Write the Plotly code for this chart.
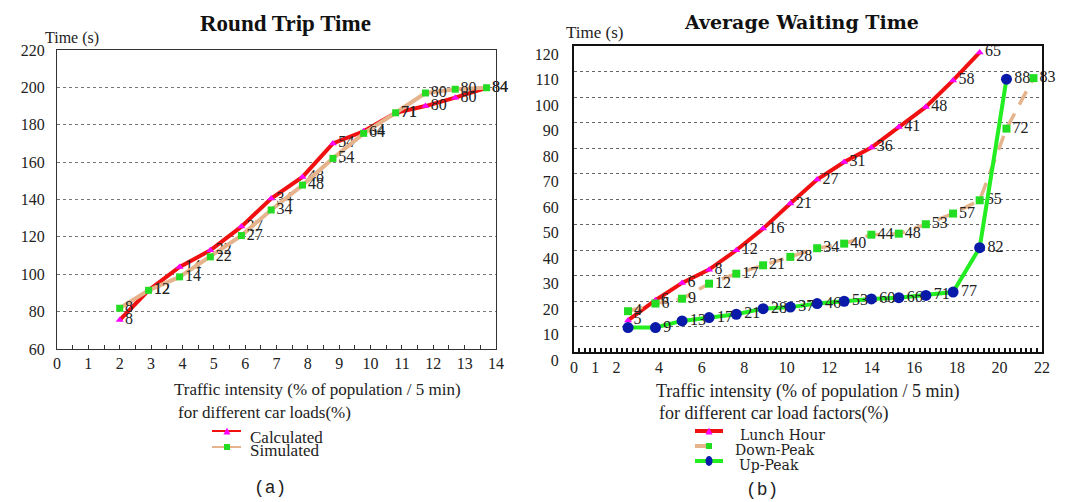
import plotly.graph_objects as go

# ---------------- Data: (a) Round Trip Time ----------------
rtt_x = [2.0, 2.92, 3.91, 4.89, 5.88, 6.83, 7.83, 8.8, 9.78, 10.8, 11.75, 12.7, 13.7]
rtt_calculated = [75.5, 91.4, 103.9, 112.8, 125.5, 140.5, 152.1, 170.0, 176.5, 186.4, 190.0, 194.5, 199.8]
rtt_simulated = [81.8, 91.4, 98.6, 109.3, 120.7, 134.4, 147.7, 162.0, 175.4, 186.4, 197.0, 199.0, 199.8]
rtt_labels = ["8", "12", "14", "22", "27", "34", "48", "54", "64", "71", "80", "80", "84"]
rtt_xticks = list(range(0, 15))
rtt_yticks = [60, 80, 100, 120, 140, 160, 180, 200, 220]

# ---------------- Data: (b) Average Waiting Time ----------------
awt_x = [2.54, 3.83, 5.08, 6.35, 7.63, 8.89, 10.17, 11.43, 12.7, 13.98, 15.27, 16.54, 17.82, 19.07, 20.33, 21.6]
lunch_y = [12.4, 20.3, 27.1, 32.3, 39.9, 48.4, 58.2, 67.6, 74.5, 80.2, 88.2, 96.1, 106.5, 117.5]
lunch_labels = ["5", "6", "6", "8", "12", "16", "21", "27", "31", "36", "41", "48", "58", "65"]
down_y = [16.0, 19.0, 20.9, 26.8, 30.7, 34.0, 37.3, 40.7, 42.5, 46.0, 46.4, 50.1, 54.3, 59.5, 87.6, 107.4]
down_labels = ["4", "6", "9", "12", "17", "21", "28", "34", "40", "44", "48", "53", "57", "65", "72", "83"]
up_y = [9.6, 9.6, 12.2, 13.5, 14.8, 17.0, 17.6, 19.0, 19.9, 20.8, 21.3, 22.2, 23.5, 40.9, 107.0]
up_labels = ["", "9", "13", "17", "21", "28", "37", "46", "53", "60", "66", "71", "77", "82", "88"]
awt_xticks = [0, 1, 2, 4, 6, 8, 10, 12, 14, 16, 18, 20, 22]
awt_yticks = list(range(0, 121, 10))

SERIF = "Liberation Serif"
OFF = 8                      # page body margin of the html page
W, H = 1082 - OFF, 502 - OFF

def px(v):
    return (v - OFF) / W

def py(v):
    return 1 - (v - OFF) / H

RED = "#f01010"
MAGENTA = "#ff00ff"
TAN = "#e6b48c"
GREEN_MK = "#22dd22"
GREEN_LN = "#22ee22"
BLUE = "#0a1aa8"
TXT = "#222222"

label_font = dict(family=SERIF, size=16, color=TXT)

fig = go.Figure()

# (a) traces
fig.add_trace(go.Scatter(
    x=rtt_x, y=rtt_calculated, name="Calculated", mode="lines+markers+text",
    text=rtt_labels, textposition="middle right", textfont=label_font,
    line=dict(color=RED, width=4),
    marker=dict(symbol="triangle-up", color=MAGENTA, size=7),
    xaxis="x", yaxis="y", showlegend=False, cliponaxis=False))
fig.add_trace(go.Scatter(
    x=rtt_x, y=rtt_simulated, name="Simulated", mode="lines+markers+text",
    text=rtt_labels, textposition="middle right", textfont=label_font,
    line=dict(color=TAN, width=4),
    marker=dict(symbol="square", color=GREEN_MK, size=7),
    xaxis="x", yaxis="y", showlegend=False, cliponaxis=False))

# (b) traces
fig.add_trace(go.Scatter(
    x=awt_x[:len(lunch_y)], y=lunch_y, name="Lunch Hour", mode="lines+markers+text",
    text=lunch_labels, textposition="middle right", textfont=label_font,
    line=dict(color=RED, width=4),
    marker=dict(symbol="triangle-up", color=MAGENTA, size=7),
    xaxis="x2", yaxis="y2", showlegend=False, cliponaxis=False))
fig.add_trace(go.Scatter(
    x=awt_x[:len(down_y)], y=down_y, name="Down-Peak", mode="lines+markers+text",
    text=down_labels, textposition="middle right", textfont=label_font,
    line=dict(color=TAN, width=3.5, dash="15px,10px"),
    marker=dict(symbol="square", color=GREEN_MK, size=8),
    xaxis="x2", yaxis="y2", showlegend=False, cliponaxis=False))
fig.add_trace(go.Scatter(
    x=awt_x[:len(up_y)], y=up_y, name="Up-Peak", mode="lines+markers+text",
    text=up_labels, textposition="middle right", textfont=label_font,
    line=dict(color=GREEN_LN, width=4),
    marker=dict(symbol="circle", color=BLUE, size=11),
    xaxis="x2", yaxis="y2", showlegend=False, cliponaxis=False))

tickfont = dict(family=SERIF, size=16, color=TXT)

fig.update_layout(
    width=W, height=H,
    margin=dict(l=0, r=0, t=0, b=0, autoexpand=False),
    paper_bgcolor="white", plot_bgcolor="white",
    font=dict(family=SERIF, color=TXT),
    showlegend=False,
    # ---- (a) axes ----
    xaxis=dict(domain=[px(57), px(496)], range=[0, 14], anchor="y",
               tickmode="array", tickvals=rtt_xticks,
               ticks="inside", ticklen=4, tickcolor="#333", tickwidth=1,
               minor=dict(dtick=0.5, tick0=0, ticks="inside", ticklen=4, tickcolor="#333"),
               showgrid=False, zeroline=False, showline=True, linecolor="#333",
               linewidth=1, mirror=True, tickfont=tickfont),
    xaxis3=dict(overlaying="x", anchor="y", range=[0, 14],
                tickmode="array", tickvals=rtt_xticks, showticklabels=False,
                ticks="outside", ticklen=4, tickcolor="#333",
                minor=dict(dtick=0.5, tick0=0, ticks="outside", ticklen=4, tickcolor="#333"),
                showgrid=False, zeroline=False, showline=False),
    yaxis=dict(domain=[py(349), py(50)], range=[60, 220], anchor="x",
               tickmode="array", tickvals=rtt_yticks,
               showgrid=True, gridcolor="#777777", griddash="dot", gridwidth=1,
               zeroline=False, showline=True, linecolor="#333", linewidth=1, mirror=True,
               ticks="", tickfont=tickfont, ticklabelstandoff=8),
    # ---- (b) axes ----
    xaxis2=dict(domain=[px(574), px(1042)], range=[0, 22], anchor="y2",
                tickmode="array", tickvals=awt_xticks,
                ticks="inside", ticklen=4, tickcolor="#111", tickwidth=1.5,
                minor=dict(dtick=0.25, tick0=0, ticks="inside", ticklen=4, tickcolor="#111", tickwidth=1.5),
                showgrid=False, zeroline=False, showline=True, linecolor="#111",
                linewidth=2, mirror=True, tickfont=tickfont),
    xaxis4=dict(overlaying="x2", anchor="y2", range=[0, 22],
                tickmode="array", tickvals=awt_xticks, showticklabels=False,
                ticks="outside", ticklen=4, tickcolor="#111", tickwidth=1.5,
                minor=dict(dtick=0.25, tick0=0, ticks="outside", ticklen=4, tickcolor="#111", tickwidth=1.5),
                showgrid=False, zeroline=False, showline=False),
    yaxis2=dict(domain=[py(352), py(46)], range=[0, 120], anchor="x2",
                tickmode="array", tickvals=awt_yticks,
                showgrid=True, gridcolor="#666666", griddash="dot", gridwidth=1,
                zeroline=False, showline=True, linecolor="#111", linewidth=2, mirror=True,
                ticks="", tickfont=tickfont, ticklabelstandoff=10, ticklabelshift=8),
)

annotations = [
    dict(text="<b>Round Trip Time</b>", x=px(285), y=py(23),
         font=dict(family=SERIF, size=23, color="#111111")),
    dict(text="Time (s)", x=px(43), y=py(38), xanchor="left",
         font=dict(family=SERIF, size=16, color=TXT)),
    dict(text="Traffic intensity (% of population / 5 min)", x=px(172), y=py(389), xanchor="left",
         font=dict(family=SERIF, size=17, color=TXT)),
    dict(text="for different car loads(%)", x=px(176), y=py(412), xanchor="left",
         font=dict(family=SERIF, size=17, color=TXT)),
    dict(text="(a)", x=px(270), y=py(488),
         font=dict(family="Liberation Mono", size=18, color=TXT)),
    dict(text="<b>Average Waiting Time</b>", x=px(801), y=py(22),
         font=dict(family="DejaVu Serif", size=19, color="#111111")),
    dict(text="Time (s)", x=px(564), y=py(32), xanchor="left",
         font=dict(family=SERIF, size=17, color=TXT)),
    dict(text="Traffic intensity (% of population / 5 min)", x=px(654), y=py(391), xanchor="left",
         font=dict(family=SERIF, size=18, color=TXT)),
    dict(text="for different car load factors(%)", x=px(657), y=py(413), xanchor="left",
         font=dict(family=SERIF, size=18, color=TXT)),
    dict(text="(b)", x=px(762), y=py(490),
         font=dict(family="Liberation Mono", size=18, color=TXT)),
]

# ---- compact legends drawn as line swatches + text (as in the reference) ----
shapes = []

def swatch(x0, x1, y, color, width, dash="solid"):
    shapes.append(dict(type="line", xref="paper", yref="paper",
                       x0=px(x0), x1=px(x1), y0=py(y), y1=py(y),
                       line=dict(color=color, width=width, dash=dash)))

def mk_square(cx, cy, s, color):
    shapes.append(dict(type="rect", xref="paper", yref="paper",
                       x0=px(cx - s), x1=px(cx + s), y0=py(cy + s), y1=py(cy - s),
                       fillcolor=color, line=dict(width=0)))

def mk_circle(cx, cy, rx, ry, color):
    shapes.append(dict(type="circle", xref="paper", yref="paper",
                       x0=px(cx - rx), x1=px(cx + rx), y0=py(cy + ry), y1=py(cy - ry),
                       fillcolor=color, line=dict(width=0)))

def mk_triangle(cx, cy, s, color):
    path = "M {:.5f} {:.5f} L {:.5f} {:.5f} L {:.5f} {:.5f} Z".format(
        px(cx - s), py(cy + s), px(cx + s), py(cy + s), px(cx), py(cy - s))
    shapes.append(dict(type="path", xref="paper", yref="paper", path=path,
                       fillcolor=color, line=dict(width=0)))

legend_a = [("Calculated", RED, MAGENTA, "tri", 431, 437),
            ("Simulated", TAN, GREEN_MK, "sq", 447, 450)]
for name, lc, mc, kind, ly, ty in legend_a:
    swatch(212, 241, ly, lc, 2)
    if kind == "tri":
        mk_triangle(227, ly, 3.5, mc)
    else:
        mk_square(227, ly, 3, mc)
    annotations.append(dict(text=name, x=px(248), y=py(ty), xanchor="left",
                            font=dict(family=SERIF, size=17, color=TXT)))

legend_b = [("Lunch Hour", RED, MAGENTA, "tri", 431, 435, 738),
            ("Down-Peak", TAN, GREEN_MK, "sq", 446, 450, 733),
            ("Up-Peak", GREEN_LN, BLUE, "ci", 461, 465, 737)]
for name, lc, mc, kind, ly, ty, tx in legend_b:
    if kind == "sq":
        swatch(695, 706, ly, lc, 4)
    else:
        swatch(695, 723, ly, lc, 4)
    if kind == "tri":
        mk_triangle(709, ly, 3.5, mc)
    elif kind == "sq":
        mk_square(709, ly, 3, mc)
    else:
        mk_circle(709, ly, 3.5, 5, mc)
    annotations.append(dict(text=name, x=px(tx), y=py(ty), xanchor="left",
                            font=dict(family="DejaVu Serif", size=14, color=TXT)))

for a in annotations:
    a.setdefault("xanchor", "center")
    a.update(xref="paper", yref="paper", showarrow=False, yanchor="middle")
fig.update_layout(annotations=annotations, shapes=shapes)

fig.write_html("out.html")
